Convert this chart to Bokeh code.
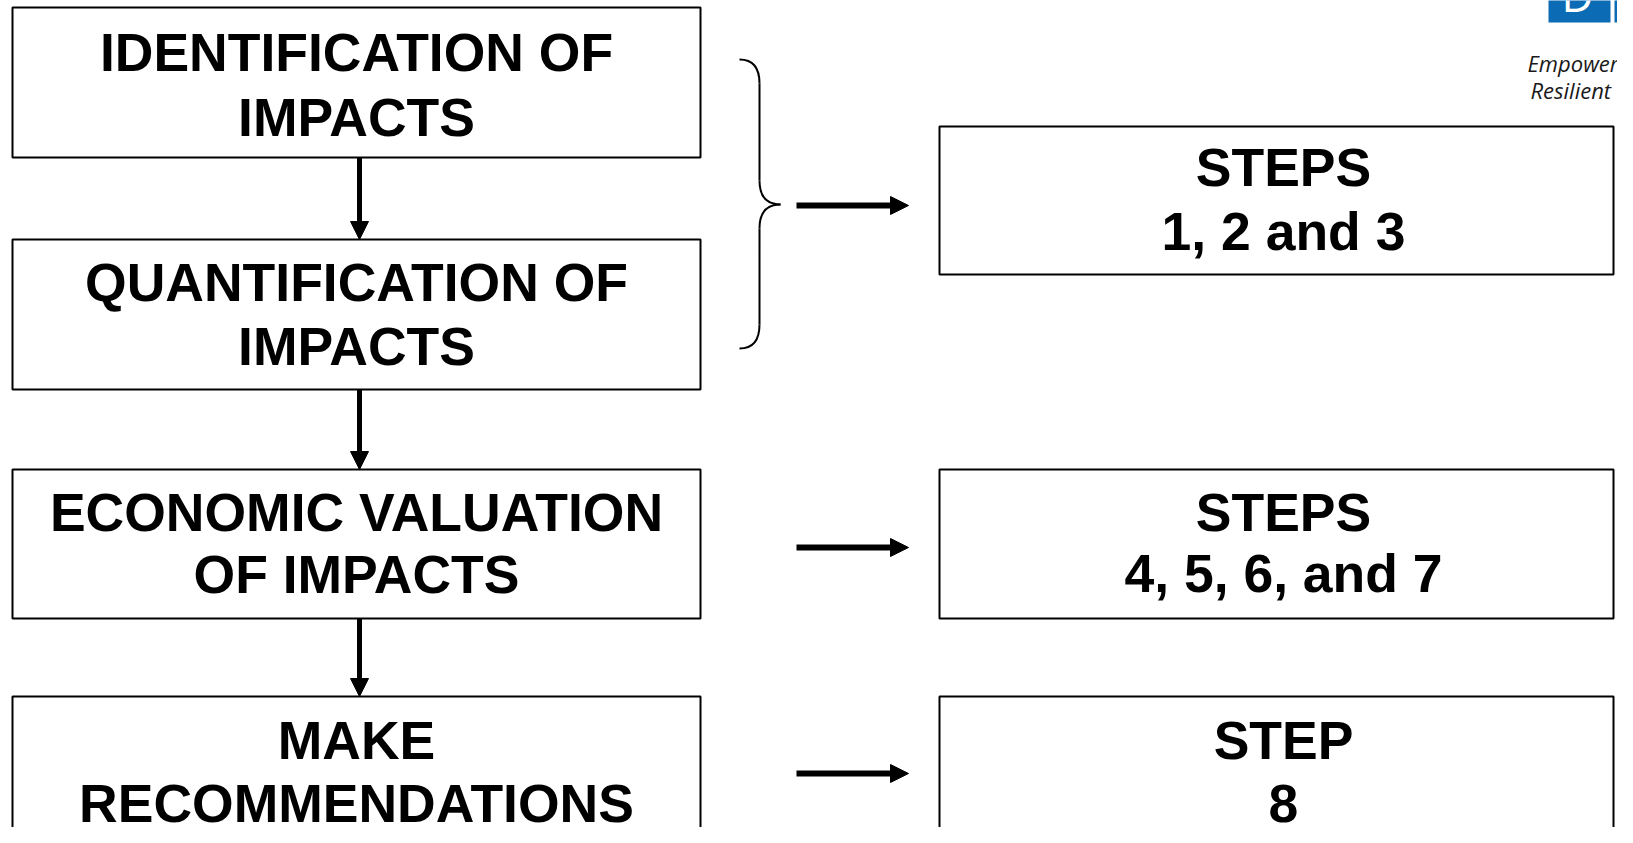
from bokeh.plotting import figure
from bokeh.embed import file_html
from bokeh.resources import INLINE
from bokeh.core.properties import value
from bokeh.models import Range1d

# ---- data (reference pixel space, y downward) ----
left_labels = [["IDENTIFICATION OF", "IMPACTS"],
               ["QUANTIFICATION OF", "IMPACTS"],
               ["ECONOMIC VALUATION", "OF IMPACTS"],
               ["MAKE", "RECOMMENDATIONS"]]
left_tops = [7, 239, 469, 696]
left_bottoms = [157, 389, 618, 860]
left_mids = [[52, 117], [282, 346], [512, 574], [740, 803]]

right_labels = [["STEPS", "1, 2 and 3"],
                ["STEPS", "4, 5, 6, and 7"],
                ["STEP", "8"]]
right_tops = [126, 469, 696]
right_bottoms = [274, 618, 860]
right_mids = [[167, 231], [512, 573], [740, 803]]

left_x0, left_x1 = 12, 700
right_x0, right_x1 = 939, 1613
right_cx = 1283
harrow_y = [205, 547, 773]
tagline = ["Empowered lives.", "Resilient nations."]

W, H = 1617, 827
p = figure(width=W, height=H, output_backend="svg", toolbar_location=None,
           x_range=Range1d(0, W), y_range=Range1d(H, 0),
           min_border=0, outline_line_color=None)
p.axis.visible = False
p.grid.visible = False
p.background_fill_color = "white"
p.border_fill_color = "white"

fs = "53.5px"
font = value("Liberation Sans")

# left boxes
for i in range(4):
    p.quad(left=left_x0, right=left_x1, top=left_tops[i], bottom=left_bottoms[i],
           fill_color="white", line_color="black", line_width=2)
    cx = (left_x0 + left_x1) / 2
    for j, t in enumerate(left_labels[i]):
        p.text(x=[cx], y=[left_mids[i][j]], text=[t], text_align="center",
               text_baseline="middle", text_font=font,
               text_font_style="bold", text_font_size=fs, text_color="black")

# right boxes
for i in range(3):
    p.quad(left=right_x0, right=right_x1, top=right_tops[i], bottom=right_bottoms[i],
           fill_color="white", line_color="black", line_width=2)
    for j, t in enumerate(right_labels[i]):
        p.text(x=[right_cx], y=[right_mids[i][j]], text=[t], text_align="center",
               text_baseline="middle", text_font=font,
               text_font_style="bold", text_font_size=fs, text_color="black")

# vertical arrows between left boxes
vx = 359
for i in range(3):
    y0 = left_bottoms[i]
    y1 = left_tops[i + 1]
    p.segment(x0=vx, y0=y0, x1=vx, y1=y1 - 16, line_color="black", line_width=5)
    p.patch(x=[vx - 9, vx + 9, vx], y=[y1 - 18, y1 - 18, y1], fill_color="black",
            line_color="black", line_width=1)

# horizontal arrows
hx0, hx1 = 796, 908
for y in harrow_y:
    p.segment(x0=hx0, y0=y, x1=hx1 - 16, y1=y, line_color="black", line_width=6)
    p.patch(x=[hx1 - 18, hx1 - 18, hx1], y=[y - 9, y + 9, y], fill_color="black",
            line_color="black", line_width=1)

# brace
bx0, bx1, btip = 739, 759, 780
by0, bmid, by1 = 59, 204, 348
r = 24
p.quadratic(x0=[bx0, bx1, btip, bx1], y0=[by0, bmid - r, bmid, by1 - r],
            x1=[bx1, btip, bx1, bx0], y1=[by0 + r, bmid, bmid + r, by1],
            cx=[bx1, bx1, bx1, bx1], cy=[by0, bmid, bmid, by1],
            line_color="black", line_width=2)
p.segment(x0=[bx1, bx1], y0=[by0 + r, bmid + r], x1=[bx1, bx1], y1=[bmid - r, by1 - r],
          line_color="black", line_width=2)

# logo fragment
p.quad(left=[1548, 1614], right=[1610, 1645], top=[-5, -5], bottom=[22, 22],
       fill_color="#0b6bb5", line_color=None)
p.text(x=[1561], y=[-6], text=["D"], text_align="left", text_baseline="middle",
       text_font=value("Open Sans"), text_font_size="44px", text_color="white")
p.text(x=[1527, 1530], y=[62, 89], text=tagline, text_align="left",
       text_baseline="middle", text_font=value("Open Sans"), text_font_style="italic",
       text_font_size="22px", text_color="#1a1a1a")

open("out.html", "w").write(file_html(p, INLINE))
